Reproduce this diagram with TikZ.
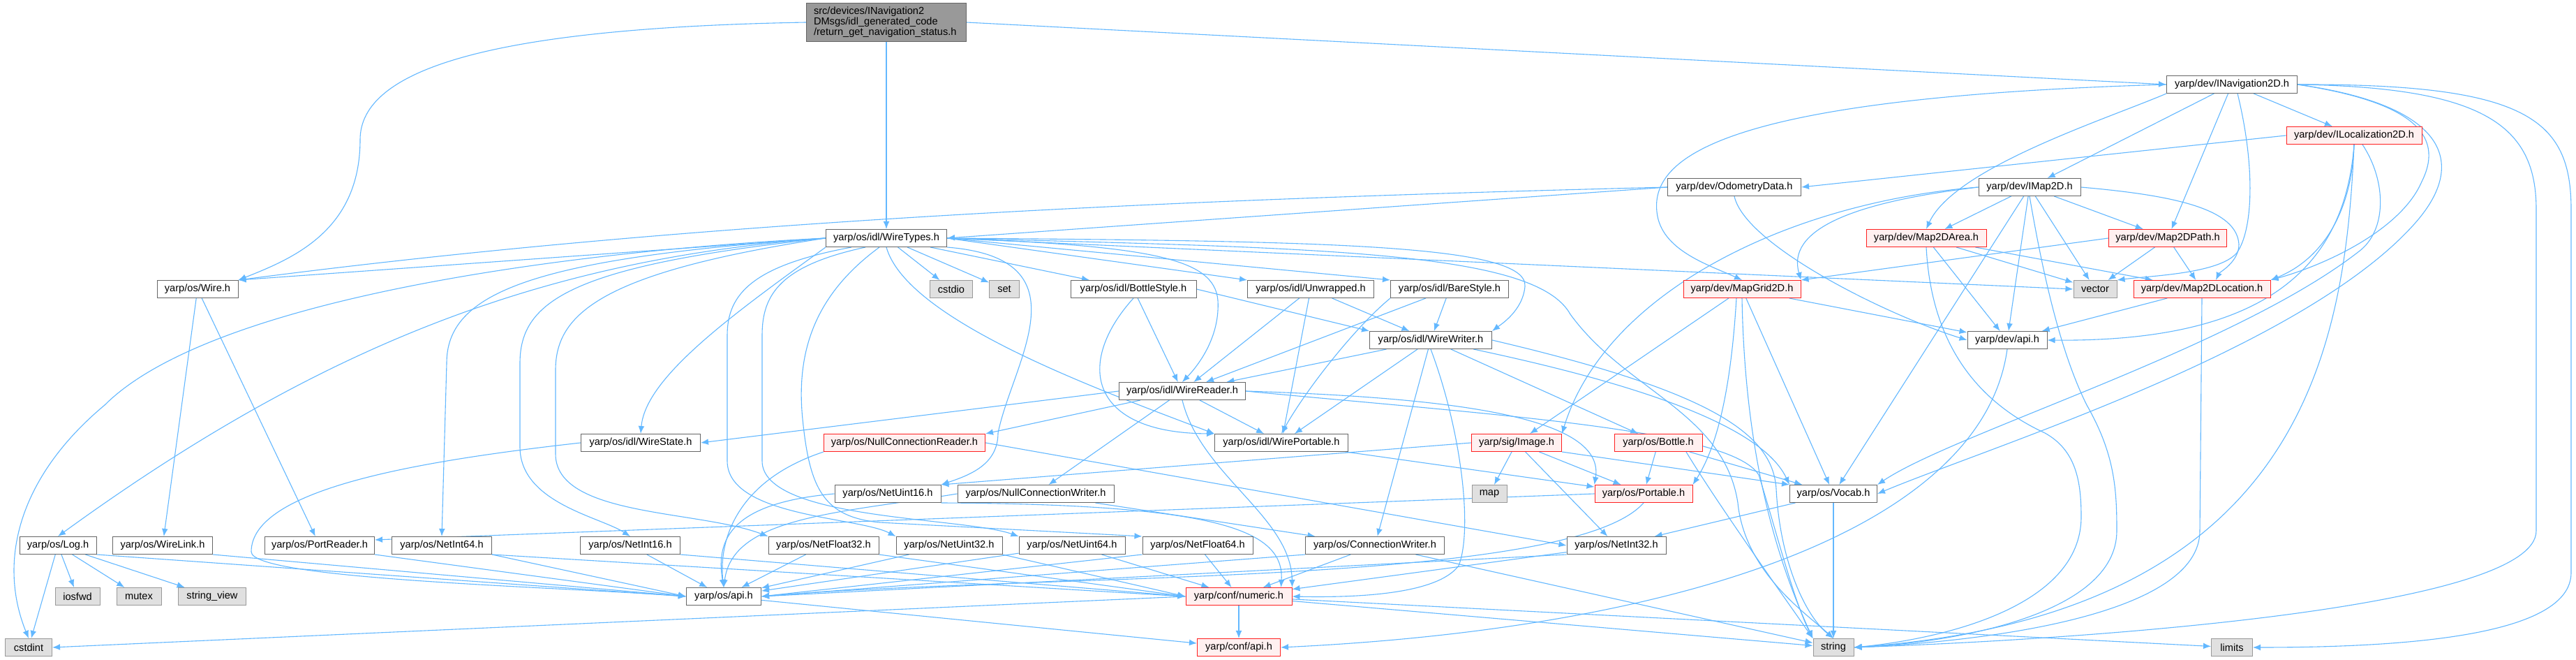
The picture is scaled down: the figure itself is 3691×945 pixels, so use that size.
\documentclass[tikz,border=0pt]{standalone}
\usepackage{fontspec}
\setmainfont{Liberation Sans}
\usetikzlibrary{arrows.meta}
\definecolor{edgec}{HTML}{63B8FF}
\definecolor{nb}{HTML}{666666}
\definecolor{rb}{HTML}{FF2020}
\definecolor{rf}{HTML}{FFF0F0}
\definecolor{gb}{HTML}{999999}
\definecolor{gf}{HTML}{E0E0E0}
\definecolor{rootf}{HTML}{999999}
\newcommand\dxf{\fontsize{7.3}{7.5}\selectfont}
\pgfdeclarelayer{back}
\pgfdeclarelayer{bg}
\pgfsetlayers{back,bg,main}
\begin{document}
\begin{tikzpicture}[x=0.5pt,y=-0.5pt,
  nd/.style={draw=nb, fill=white, line width=0.5pt, minimum height=12.5pt, inner sep=0pt, font=\dxf, text=black},
  rd/.style={nd, draw=rb, fill=rf},
  gd/.style={nd, draw=gb, fill=gf},
  rootst/.style={nd, fill=rootf},
  e/.style={draw=edgec, line width=0.55pt, -{Latex[length=5.5pt,width=4.4pt]}}]
\useasboundingbox (0,0) rectangle (3691,945);
\begin{pgfonlayer}{back}
\fill[white] (0,0) rectangle (3691,945);
\end{pgfonlayer}
% nodes
\node[rootst, text width=104pt, align=left, minimum height=27.5pt, inner xsep=5.25pt] (root) at (1270,32) {src/devices/INavigation2\\DMsgs/idl\_generated\_code\\/return\_get\_navigation\_status.h};
\node[nd, minimum width=93.5pt] (nav) at (3198,121) {yarp/dev/INavigation2D.h};
\node[rd, minimum width=97pt] (loc) at (3373,194) {yarp/dev/ILocalization2D.h};
\node[nd, minimum width=95.5pt] (odo) at (2485,268) {yarp/dev/OdometryData.h};
\node[nd, minimum width=73pt] (imap) at (2908,268) {yarp/dev/IMap2D.h};
\node[nd, minimum width=86.5pt] (wt) at (1270,341) {yarp/os/idl/WireTypes.h};
\node[nd, minimum width=58pt] (wire) at (283,414) {yarp/os/Wire.h};
\node[gd, minimum width=30.5pt] (cstdio) at (1363,414) {cstdio};
\node[gd, minimum width=21.5pt] (set) at (1439,414) {set};
\node[nd, minimum width=90pt] (bstyle) at (1624,414) {yarp/os/idl/BottleStyle.h};
\node[nd, minimum width=90.5pt] (unwr) at (1878,414) {yarp/os/idl/Unwrapped.h};
\node[nd, minimum width=84.5pt] (bare) at (2077,414) {yarp/os/idl/BareStyle.h};
\node[gd, minimum width=31pt] (vector) at (3002,414) {vector};
\node[rd, minimum width=86pt] (area) at (2760,341) {yarp/dev/Map2DArea.h};
\node[rd, minimum width=84.5pt] (path) at (3106,341) {yarp/dev/Map2DPath.h};
\node[rd, minimum width=84pt] (grid) at (2496,414) {yarp/dev/MapGrid2D.h};
\node[rd, minimum width=98pt] (loc2) at (3155,414) {yarp/dev/Map2DLocation.h};
\node[nd, minimum width=87.5pt] (wwriter) at (2050,487) {yarp/os/idl/WireWriter.h};
\node[nd, minimum width=57pt] (devapi) at (2876,487) {yarp/dev/api.h};
\node[nd, minimum width=90.5pt] (wreader) at (1694,560) {yarp/os/idl/WireReader.h};
\node[nd, minimum width=85.5pt] (wstate) at (918,634) {yarp/os/idl/WireState.h};
\node[rd, minimum width=115.5pt] (ncr) at (1296,634) {yarp/os/NullConnectionReader.h};
\node[nd, minimum width=95.5pt] (wport) at (1836,634) {yarp/os/idl/WirePortable.h};
\node[rd, minimum width=64.5pt] (image) at (2173,634) {yarp/sig/Image.h};
\node[rd, minimum width=63pt] (bottle) at (2376,634) {yarp/os/Bottle.h};
\node[gd, minimum width=25pt] (map) at (2134,707) {map};
\node[nd, minimum width=76pt] (nu16) at (1272,707) {yarp/os/NetUint16.h};
\node[nd, minimum width=112pt] (ncw) at (1484,707) {yarp/os/NullConnectionWriter.h};
\node[rd, minimum width=70pt] (portable) at (2355,707) {yarp/os/Portable.h};
\node[nd, minimum width=62.5pt] (vocab) at (2627,707) {yarp/os/Vocab.h};
\node[nd, minimum width=55pt] (log) at (83,781) {yarp/os/Log.h};
\node[nd, minimum width=71.5pt] (wlink) at (233,781) {yarp/os/WireLink.h};
\node[nd, minimum width=78.5pt] (preader) at (458,781) {yarp/os/PortReader.h};
\node[nd, minimum width=71.5pt] (ni64) at (633,781) {yarp/os/NetInt64.h};
\node[nd, minimum width=71.5pt] (ni16) at (903,781) {yarp/os/NetInt16.h};
\node[nd, minimum width=79pt] (nf32) at (1180,781) {yarp/os/NetFloat32.h};
\node[nd, minimum width=76pt] (nu32) at (1360,781) {yarp/os/NetUint32.h};
\node[nd, minimum width=76pt] (nu64) at (1536,781) {yarp/os/NetUint64.h};
\node[nd, minimum width=79pt] (nf64) at (1716,781) {yarp/os/NetFloat64.h};
\node[nd, minimum width=99.5pt] (cwriter) at (1970,781) {yarp/os/ConnectionWriter.h};
\node[nd, minimum width=71pt] (ni32) at (2316,781) {yarp/os/NetInt32.h};
\node[gd, minimum width=32pt] (iosfwd) at (111,854) {iosfwd};
\node[gd, minimum width=32pt] (mutex) at (199,854) {mutex};
\node[gd, minimum width=48.5pt] (sview) at (304,854) {string\_view};
\node[nd, minimum width=53.5pt] (osapi) at (1037,854) {yarp/os/api.h};
\node[rd, minimum width=76pt] (numeric) at (1775,854) {yarp/conf/numeric.h};
\node[gd, minimum width=33.5pt] (cstdint) at (41,927) {cstdint};
\node[rd, minimum width=59.5pt] (confapi) at (1775,927) {yarp/conf/api.h};
\node[gd, minimum width=29pt] (string) at (2627,927) {string};
\node[gd, minimum width=29.5pt] (limits) at (3198,927) {limits};
\begin{pgfonlayer}{bg}
% root
\draw[e] (root.west) .. controls (700,40) and (516,100) .. (516,200) .. controls (516,330) and (420,370) .. (wire.north east);
\draw[e] (root) -- (wt);
\draw[e] (root.east) -- (nav.west);
% INavigation2D
\draw[e] (nav) -- (loc);
\draw[e] (nav) -- (imap);
\draw[e] (nav.south west) .. controls (3020,170) and (2800,240) .. (area.north);
\draw[e] (nav) -- (path);
\draw[e] ([xshift=4pt]nav.south) .. controls (3232,240) and (3228,330) .. (3205,362) .. controls (3180,392) and (3080,395) .. (vector.north east);
\draw[e] (nav.east) .. controls (3450,145) and (3505,190) .. (3470,260) .. controls (3440,330) and (3330,380) .. (loc2.north east);
\draw[e] (nav.west) .. controls (2450,140) and (2360,230) .. (2375,310) .. controls (2385,360) and (2450,380) .. (grid.north);
\draw[e] (nav.east) .. controls (3500,150) and (3540,230) .. (3460,320) .. controls (3300,500) and (2850,640) .. (vocab.east);
\draw[e] (nav.east) .. controls (3560,125) and (3634,180) .. (3634,300) -- (3634,760) .. controls (3634,870) and (3000,915) .. (string.east);
\draw[e] (nav.east) .. controls (3620,120) and (3684,170) .. (3684,300) -- (3684,820) .. controls (3684,910) and (3450,927) .. (limits.east);
% ILocalization2D
\draw[e] (loc.west) -- (odo.east);
\draw[e] (loc.south) .. controls (3370,300) and (3330,370) .. (loc2.north east);
\draw[e] (loc.south) .. controls (3360,380) and (3250,490) .. (devapi.east);
\draw[e] ([xshift=6pt]loc.south) .. controls (3420,260) and (3420,330) .. (3380,360) .. controls (3200,500) and (2800,620) .. (vocab.north east);
\draw[e] (loc.south) .. controls (3360,500) and (3300,880) .. (string.east);
% OdometryData
\draw[e] (odo.west) .. controls (1700,285) and (1000,315) .. (wire.north east);
\draw[e] (odo.west) -- (wt.east);
\draw[e] (odo.south) .. controls (2500,350) and (2700,450) .. (devapi.west);
% IMap2D
\draw[e] (imap.west) .. controls (2650,290) and (2560,330) .. (grid.north east);
\draw[e] (imap.west) .. controls (2560,290) and (2300,420) .. (image.north east);
\draw[e] (imap) -- (area);
\draw[e] (imap) -- (path);
\draw[e] (imap.east) .. controls (3120,280) and (3205,300) .. (3208,350) .. controls (3208,375) and (3180,390) .. ([xshift=10pt]loc2.north);
\draw[e] (imap) -- (vector);
\draw[e] (imap) -- (devapi);
\draw[e] (imap) -- (vocab);
\draw[e] (imap.south) .. controls (2925,380) and (2950,500) .. (2990,580) .. controls (3030,650) and (3033,700) .. (3033,760) .. controls (3033,880) and (2800,920) .. (string.east);
% Map2DArea
\draw[e] (area) -- (loc2);
\draw[e] (area) -- (vector);
\draw[e] (area) -- (devapi);
\draw[e] (area.south) .. controls (2765,450) and (2800,560) .. (2930,620) .. controls (2975,645) and (2982,690) .. (2982,740) .. controls (2982,870) and (2780,915) .. (string.east);
% Map2DPath
\draw[e] (path) -- (loc2);
\draw[e] (path) -- (vector);
\draw[e] (path.west) -- (grid.north east);
% MapGrid2D
\draw[e] (grid) -- (image);
\draw[e] ([xshift=-4pt]grid.south) .. controls (2480,560) and (2460,640) .. (portable.north east);
\draw[e] (grid) -- (devapi);
\draw[e] (grid) -- (vocab);
\draw[e] (grid.south) .. controls (2500,650) and (2545,800) .. (string.north west);
% Map2DLocation
\draw[e] (loc2) -- (devapi);
\draw[e] (loc2.south) -- (3152,760) .. controls (3152,880) and (2850,918) .. (string.east);
% dev/api
\draw[e] (devapi.south) .. controls (2840,760) and (2400,900) .. (confapi.east);
% WireTypes
\draw[e] (wt.west) -- (wire.north east);
\draw[e] (wt.west) .. controls (800,360) and (300,430) .. (150,580) .. controls (30,680) and (-5,800) .. (cstdint.north);
\draw[e] (wt.west) .. controls (800,370) and (480,480) .. (log.north);
\draw[e] (wt.west) .. controls (760,370) and (640,420) .. (640,520) -- (ni64.north);
\draw[e] (wt.west) .. controls (820,380) and (745,430) .. (745,520) -- (745,640) .. controls (745,720) and (860,740) .. (ni16.north);
\draw[e] (wt.west) .. controls (860,390) and (796,450) .. (796,530) -- (796,650) .. controls (796,740) and (1000,730) .. (nf32.north west);
\draw[e] (wt.south west) .. controls (1050,450) and (925,540) .. (wstate.north);
\draw[e] ([xshift=-25pt]wt.south) .. controls (1080,380) and (1042,420) .. (1042,480) -- (1042,660) .. controls (1042,740) and (1230,740) .. (nu32.north west);
\draw[e] ([xshift=-15pt]wt.south) .. controls (1120,380) and (1092,420) .. (1092,480) -- (1092,660) .. controls (1092,745) and (1380,740) .. (nu64.north west);
\draw[e] ([xshift=-5pt]wt.south) .. controls (1170,420) and (1140,500) .. (1150,600) .. controls (1160,700) and (1180,740) .. (1260,748) -- (nf64.north west);
\draw[e] (wt.south east) .. controls (1560,370) and (1450,520) .. (1430,620) .. controls (1430,665) and (1390,680) .. (nu16.north east);
\draw[e] (wt) -- (cstdio);
\draw[e] (wt) -- (set);
\draw[e] (wt) -- (bstyle);
\draw[e] (wt.east) -- (unwr.north west);
\draw[e] (wt.east) -- (bare.north west);
\draw[e] (wt.east) .. controls (1650,352) and (1740,370) .. (1745,430) .. controls (1748,480) and (1720,520) .. (wreader.north);
\draw[e] (wt.east) .. controls (1900,345) and (2190,350) .. (2185,410) .. controls (2182,445) and (2150,465) .. (wwriter.north east);
\draw[e] (wt.south) .. controls (1300,460) and (1580,560) .. (wport.north west);
\draw[e] (wt.east) -- (vector.west);
\draw[e] (wt.east) .. controls (1900,355) and (2200,360) .. (2250,450) .. controls (2330,560) and (2470,590) .. (2490,720) .. controls (2500,820) and (2590,880) .. (string.north);
% Wire
\draw[e] (wire) -- (wlink);
\draw[e] (wire) -- (preader);
% BottleStyle / Unwrapped / BareStyle
\draw[e] (bstyle) -- (wreader);
\draw[e] (bstyle.east) -- (wwriter.north west);
\draw[e] (bstyle.south) .. controls (1540,520) and (1560,620) .. (wport.north west);
\draw[e] (unwr) -- (wreader);
\draw[e] (unwr) -- (wwriter);
\draw[e] (unwr) -- (wport);
\draw[e] (bare) -- (wreader);
\draw[e] (bare) -- (wwriter);
\draw[e] (bare.south west) .. controls (1940,470) and (1870,560) .. (wport.north);
% WireWriter
\draw[e] (wwriter) -- (wreader);
\draw[e] (wwriter) -- (wport);
\draw[e] (wwriter) -- (cwriter);
\draw[e] (wwriter) -- (bottle);
\draw[e] (wwriter.south) .. controls (2095,620) and (2110,760) .. (2090,810) .. controls (2060,850) and (1950,856) .. (numeric.east);
\draw[e] (wwriter) .. controls (2300,540) and (2520,600) .. (vocab.north west);
\draw[e] (wwriter.east) .. controls (2450,560) and (2540,620) .. (2545,700) .. controls (2550,800) and (2585,880) .. (string.north);
% WireReader
\draw[e] (wreader.west) -- (wstate.east);
\draw[e] (wreader) -- (ncr.north east);
\draw[e] (wreader) -- (ncw);
\draw[e] (wreader) -- (wport);
\draw[e] (wreader.east) .. controls (2100,570) and (2300,600) .. (portable.north west);
\draw[e] (wreader.east) .. controls (2150,595) and (2480,615) .. (2520,680) .. controls (2545,760) and (2570,860) .. (string.north west);
\draw[e] (wreader.south) .. controls (1720,680) and (1850,740) .. (numeric.north east);
% others
\draw[e] (wstate.west) .. controls (600,660) and (360,700) .. (360,790) .. controls (360,830) and (800,840) .. (osapi.west);
\draw[e] (ncr.south west) .. controls (1050,690) and (1030,780) .. (osapi.north);
\draw[e] (ncr.east) -- (ni32.west);
\draw[e] (ncw) -- (cwriter);
\draw[e] (ncw.west) .. controls (1200,735) and (1050,740) .. (osapi.north);
\draw[e] (wport) -- (portable);
\draw[e] (image) -- (map);
\draw[e] (image) -- (portable);
\draw[e] (image.south east) -- (vocab.north west);
\draw[e] (image) -- (ni32);
\draw[e] (image.west) -- (nu16.north east);
\draw[e] (bottle) -- (portable);
\draw[e] (bottle) -- (vocab);
\draw[e] ([xshift=20pt]bottle.south) .. controls (2460,720) and (2560,860) .. (string.north west);
\draw[e] (portable.west) -- ([yshift=4pt]preader.east);
\draw[e] (portable.south) .. controls (2250,840) and (1500,820) .. (osapi.east);
\draw[e] (vocab) -- (ni32);
\draw[e] (vocab) -- (string);
\draw[e] (ni32.south west) -- (osapi.east);
\draw[e] (ni32) -- (numeric);
\draw[e] (cwriter.south west) -- (osapi.east);
\draw[e] (cwriter) -- (numeric);
\draw[e] (cwriter) -- (string);
\draw[e] (log) -- (cstdint);
\draw[e] (log) -- (iosfwd);
\draw[e] (log) -- (mutex);
\draw[e] (log) -- (sview);
\draw[e] (log.south east) -- (osapi.west);
\draw[e] (wlink.south east) -- (osapi.west);
\draw[e] (preader.south east) -- (osapi.west);
\draw[e] (ni64.south east) -- (osapi.west);
\draw[e] (ni16) -- (osapi);
\draw[e] (nf32) -- (osapi);
\draw[e] (nu32) -- (osapi);
\draw[e] (nu64) -- (osapi);
\draw[e] (nf64.south west) -- (osapi.east);
\draw[e] (ni64.south east) -- (numeric.west);
\draw[e] (ni16.south east) -- (numeric.west);
\draw[e] (nf32.south east) -- (numeric.west);
\draw[e] (nu32.south east) -- (numeric.west);
\draw[e] (nu64) -- (numeric);
\draw[e] (nf64) -- (numeric);
\draw[e] (nu16.west) .. controls (1050,720) and (1025,770) .. (osapi.north);
\draw[e] (nu16.south east) .. controls (1750,722) and (1840,760) .. ([xshift=-8pt]numeric.north east);
\draw[e] (osapi) -- (confapi);
\draw[e] (numeric) -- (confapi);
\draw[e] (numeric.west) -- (cstdint.east);
\draw[e] (numeric) -- (string);
\draw[e] (numeric) -- (limits);
\end{pgfonlayer}
\end{tikzpicture}
\end{document}
